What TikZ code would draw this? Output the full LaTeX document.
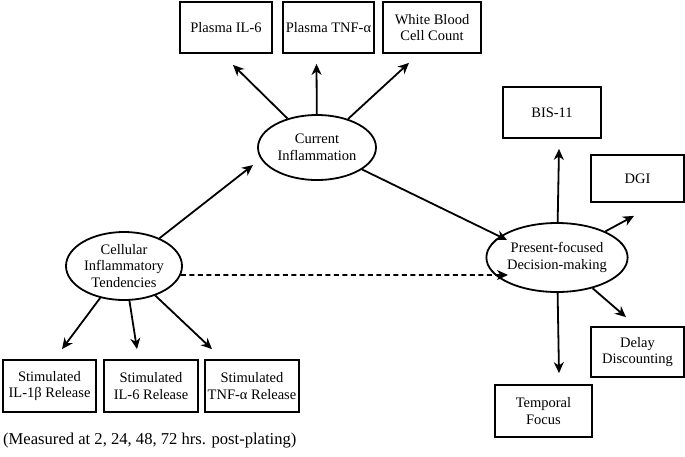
\documentclass[tikz,border=0pt]{standalone}
\usepackage{fontspec}
\setmainfont{Liberation Serif}
\usetikzlibrary{arrows.meta,shapes.geometric,calc}
\begin{document}
\begin{tikzpicture}[x=1pt,y=-1pt,
  font=\fontsize{14.5}{16.5}\selectfont,
  box/.style={draw,line width=1.8pt,align=center,inner sep=0pt},
  lat/.style={draw,ellipse,line width=1.8pt,align=center,inner sep=0pt},
  arr/.style={line width=1.8pt,-{Stealth[length=11pt,width=10pt,inset=3.5pt]}},
  dsh/.style={arr,dash pattern=on 5pt off 3.5pt}]
\useasboundingbox (0,0) rectangle (685,456);
% top boxes
\node[box,minimum width=92pt,minimum height=51pt] (pil6) at (226,27.5) {Plasma IL-6};
\node[box,minimum width=91pt,minimum height=51pt] (ptnf) at (328.5,27.5) {Plasma TNF-α};
\node[box,minimum width=98pt,minimum height=51pt] (wbc) at (432,27.5) {White Blood\\Cell Count};
% latent ellipses
\node[lat,minimum width=118pt,minimum height=65pt] (ci) at (317,147.5) {Current\\Inflammation};
\node[lat,minimum width=116pt,minimum height=68pt] (cit) at (124,266) {Cellular\\Inflammatory\\Tendencies};
\node[lat,minimum width=108pt,minimum height=69pt] (pfd) at (557,257.5) {Present-focused\\Decision-making};
% bottom boxes
\node[box,minimum width=93pt,minimum height=52pt] (s1) at (49.5,386) {Stimulated\\IL-1β Release};
\node[box,minimum width=94pt,minimum height=52pt] (s2) at (151,386) {Stimulated\\IL-6 Release};
\node[box,minimum width=94pt,minimum height=52pt] (s3) at (252,386) {Stimulated\\TNF-α Release};
% right boxes
\node[box,minimum width=98pt,minimum height=51pt] (bis) at (552,112.5) {BIS-11};
\node[box,minimum width=93pt,minimum height=47pt] (dgi) at (637.5,178.5) {DGI};
\node[box,minimum width=93pt,minimum height=50pt] (dd) at (637.5,352) {Delay\\Discounting};
\node[box,minimum width=97pt,minimum height=52pt] (tf) at (543.5,411) {Temporal\\Focus};
% caption
\node[anchor=west,inner sep=0pt,font=\fontsize{16.6}{19}\selectfont] (cap) at (3,441) {(Measured at 2, 24, 48, 72 hrs. post-plating)};
% arrows from current inflammation
\draw[arr] (ci) -- ($(pil6.south)+(7,11)$);
\draw[arr] (ci) -- ($(ptnf.south)+(-12,10)$);
\draw[arr] (ci) -- ($(wbc.south)+(-23,9)$);
% cellular -> current
\draw[arr] (cit) -- ($(ci.center)+(-64,17.5)$);
% current -> present
\draw[arr] (ci) -- ($(pfd.center)+(-50,-17.5)$);
% dashed
\draw[dsh] (cit.-9) -- ($(pfd.center)+(-49,17.5)$);
% cellular -> indicators
\draw[arr] (cit) -- ($(s1.north)+(12.5,-10)$);
\draw[arr] (cit) -- ($(s2.north)+(-14,-10)$);
\draw[arr] (cit) -- ($(s3.north)+(-40,-10)$);
% present -> indicators
\draw[arr] (pfd) -- ($(bis.south)+(7,10)$);
\draw[arr] (pfd) -- ($(dgi.south)+(-3.5,13)$);
\draw[arr] (pfd) -- ($(dd.north)+(-11.5,-9)$);
\draw[arr] (pfd) -- ($(tf.north)+(15.5,-11)$);
\end{tikzpicture}
\end{document}
